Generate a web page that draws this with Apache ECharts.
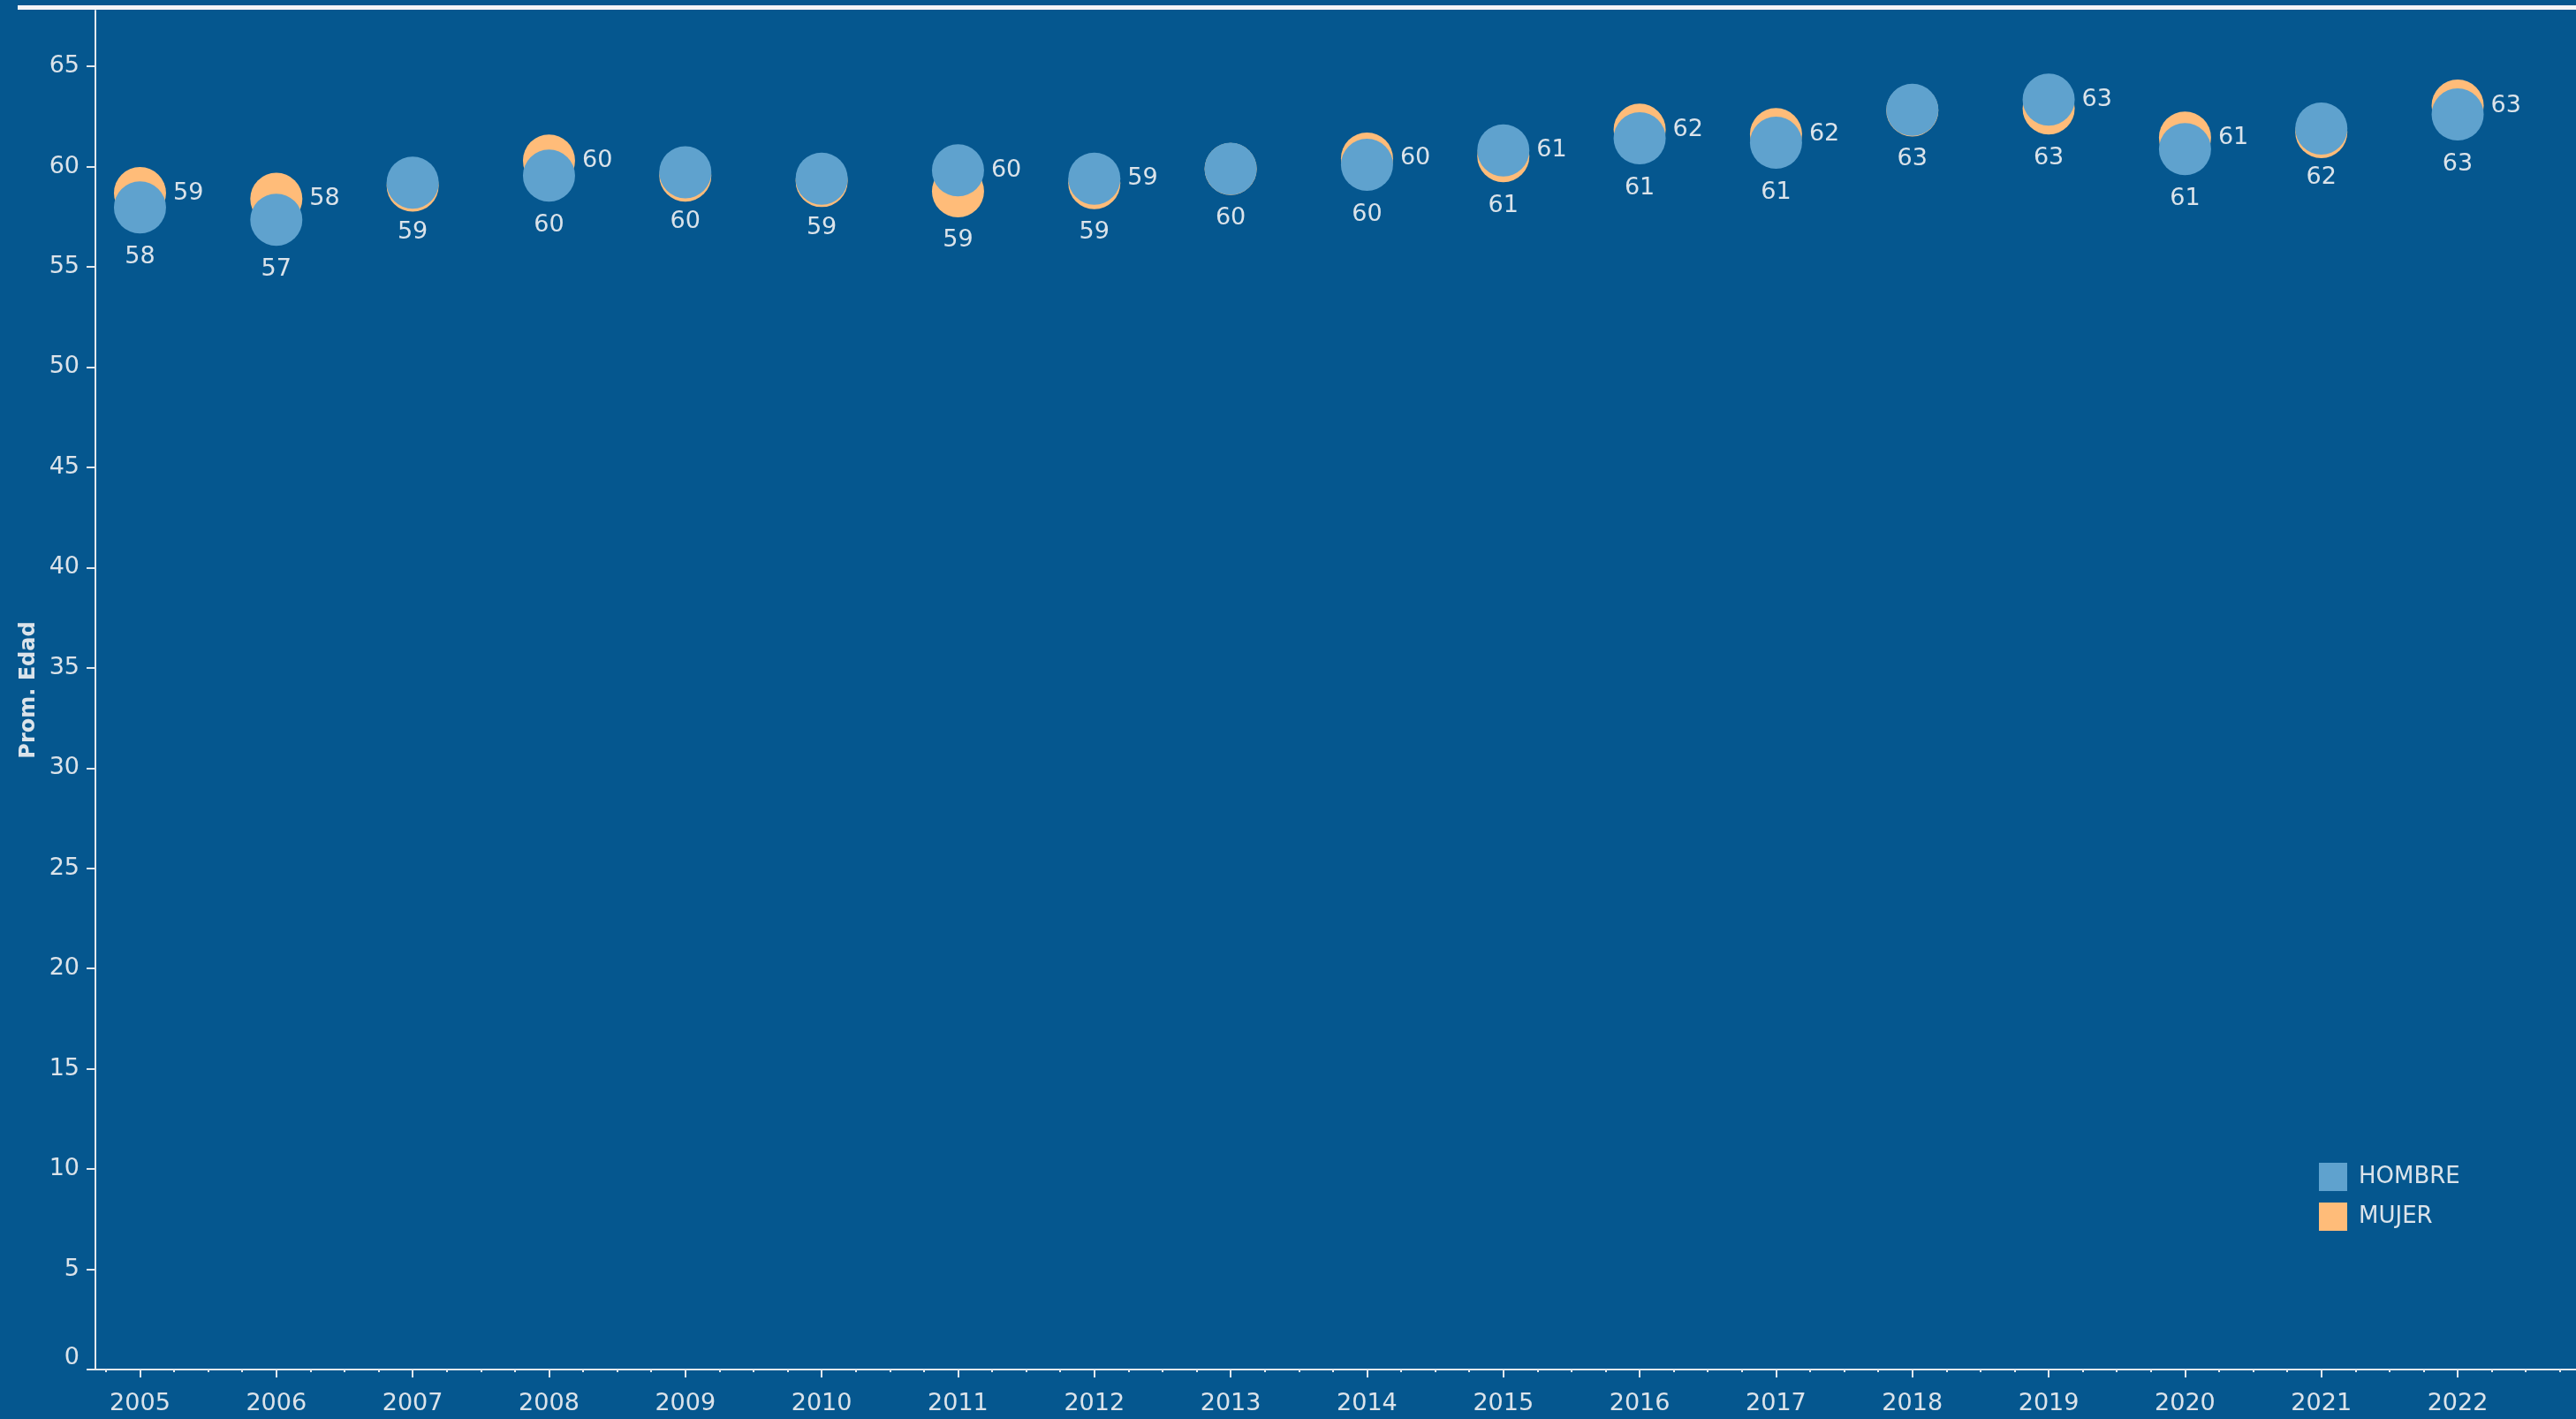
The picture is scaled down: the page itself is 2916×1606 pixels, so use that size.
<!DOCTYPE html>
<html>
<head>
<meta charset="utf-8">
<script src="https://cdn.jsdelivr.net/npm/echarts@6/dist/echarts.min.js"></script>
<style>
html,body{margin:0;padding:0;background:#05578f;}
#c{width:2916px;height:1606px;}
</style>
</head>
<body>
<div id="c"></div>
<script>
// ---- data ----
const years  = [2005, 2006, 2007, 2008, 2009, 2010, 2011, 2012, 2013, 2014, 2015, 2016, 2017, 2018, 2019, 2020, 2021, 2022];
const hombre = [57.96, 57.35, 59.20, 59.55, 59.72, 59.40, 59.81, 59.40, 59.89, 60.09, 60.81, 61.41, 61.19, 62.83, 63.34, 60.87, 61.90, 62.60];
const mujer  = [58.68, 58.39, 59.05, 60.30, 59.55, 59.28, 58.77, 59.18, 59.88, 60.40, 60.52, 61.84, 61.62, 62.80, 62.90, 61.45, 61.72, 63.04];
const yTickValues = [0, 5, 10, 15, 20, 25, 30, 35, 40, 45, 50, 55, 60, 65];
const yAxisTitle = 'Prom. Edad';
const nameH = 'HOMBRE';
const nameM = 'MUJER';

// ---- styling / layout ----
const BG = '#05578f';
const TXT = '#dbe3ea';
const LINE = '#e2e8ed';
const COL_H = '#5fa2ce';
const COL_M = '#ffbc79';
const FONT = 'DejaVu Sans';

// quarter (minor) ticks of the time axis
const minorTicks = [];
for (let y = years[0] - 1; y <= years[years.length - 1]; y++) {
  [0.25, 0.5, 0.75].forEach(q => minorTicks.push(y + q));
}

// label placement rule: upper mark -> label right, lower mark -> label below;
// nearly coincident marks -> only one label below
function buildItems(own, other, isTopSeries) {
  return years.map((yr, i) => {
    const d = own[i] - other[i];
    let show = true, position = 'bottom', distance = 13;
    if (Math.abs(d) < 0.2) {
      show = isTopSeries;
    } else if (d > 0) {
      position = 'right'; distance = 8;
    }
    return { value: [yr, own[i]], label: { show, position, distance } };
  });
}

const labelBase = {
  color: TXT, fontFamily: FONT, fontSize: 27,
  formatter: p => String(Math.round(p.value[1]))
};

const chart = echarts.init(document.getElementById('c'), null, { renderer: 'canvas' });
chart.setOption({
  backgroundColor: BG,
  animation: false,
  graphic: [{
    type: 'rect', silent: true,
    shape: { x: 20, y: 6, width: 2896, height: 5 },
    style: { fill: '#f3f5f7' }
  }],
  grid: { left: 108, right: 0, top: 12, bottom: 56, containLabel: false },
  legend: {
    orient: 'vertical', left: 2625, top: 1316, padding: 0,
    itemWidth: 32, itemHeight: 32, itemGap: 13,
    icon: 'rect',
    data: [nameH, nameM],
    textStyle: { color: TXT, fontFamily: FONT, fontSize: 26, padding: [0, 0, 0, 8] }
  },
  xAxis: [{
    type: 'value', position: 'bottom',
    min: 2004.673, max: 2022.868,
    splitLine: { show: false },
    axisLine: { show: true, onZero: false, lineStyle: { color: LINE, width: 2 } },
    axisTick: { show: true, customValues: years, length: 9, lineStyle: { color: LINE, width: 2 } },
    axisLabel: {
      show: true, customValues: years, margin: 25,
      color: TXT, fontFamily: FONT, fontSize: 27,
      formatter: v => String(Math.round(v))
    }
  }, {
    type: 'value', position: 'bottom', offset: 0,
    min: 2004.673, max: 2022.868,
    splitLine: { show: false },
    axisLine: { show: false, onZero: false },
    axisTick: { show: true, customValues: minorTicks, length: 3, lineStyle: { color: LINE, width: 2 } },
    axisLabel: { show: false }
  }],
  yAxis: {
    type: 'value', min: 0, max: 67.78,
    name: yAxisTitle, nameLocation: 'middle', nameGap: 58,
    nameTextStyle: { color: TXT, fontFamily: FONT, fontSize: 24, fontWeight: 'bold' },
    splitLine: { show: false },
    axisLine: { show: true, lineStyle: { color: LINE, width: 2 } },
    axisTick: { show: true, customValues: yTickValues, length: 10, lineStyle: { color: LINE, width: 2 } },
    axisLabel: {
      show: true, customValues: yTickValues, margin: 18,
      color: TXT, fontFamily: FONT, fontSize: 27,
      verticalAlignMinLabel: 'bottom'
    }
  },
  series: [{
    name: nameM, type: 'scatter', xAxisIndex: 0,
    symbol: 'circle', symbolSize: 59,
    itemStyle: { color: COL_M, opacity: 1 },
    label: labelBase,
    emphasis: { disabled: true },
    data: buildItems(mujer, hombre, false)
  }, {
    name: nameH, type: 'scatter', xAxisIndex: 0,
    symbol: 'circle', symbolSize: 59,
    itemStyle: { color: COL_H, opacity: 1 },
    label: labelBase,
    emphasis: { disabled: true },
    data: buildItems(hombre, mujer, true)
  }]
});
</script>
</body>
</html>
